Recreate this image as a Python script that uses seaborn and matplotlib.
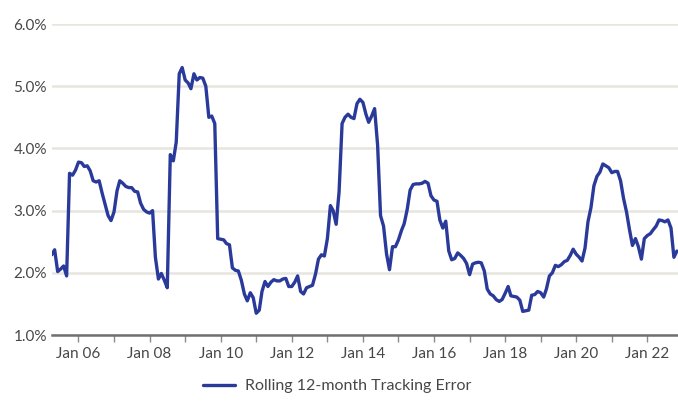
import matplotlib
matplotlib.use("Agg")
import matplotlib.pyplot as plt
import matplotlib.dates as mdates
from matplotlib.ticker import FuncFormatter
import pandas as pd
import seaborn as sns

# monthly readings, % (first point Apr 2005)
start_month = "2005-04-01"
tracking_error = [
    2.29, 2.37, 2.02, 2.06, 2.11, 1.95, 3.60, 3.57, 3.65,                    # 2005
    3.78, 3.77, 3.71, 3.72, 3.64, 3.48, 3.46, 3.48, 3.28, 3.10, 2.92, 2.84,  # 2006
    2.98, 3.32, 3.48, 3.44, 3.39, 3.37, 3.37, 3.31, 3.30, 3.12, 3.02, 2.98,  # 2007
    2.96, 3.00, 2.25, 1.90, 1.99, 1.88, 1.76, 3.90, 3.80, 4.10, 5.20, 5.30,  # 2008
    5.10, 5.05, 4.96, 5.20, 5.10, 5.14, 5.13, 5.00, 4.50, 4.52, 4.40, 2.55,  # 2009
    2.54, 2.53, 2.47, 2.45, 2.08, 2.04, 2.03, 1.88, 1.66, 1.55, 1.68, 1.60,  # 2010
    1.35, 1.40, 1.70, 1.86, 1.78, 1.85, 1.89, 1.87, 1.87, 1.90, 1.91, 1.78,  # 2011
    1.78, 1.85, 1.95, 1.70, 1.66, 1.76, 1.78, 1.80, 1.98, 2.22, 2.29, 2.27,  # 2012
    2.55, 3.08, 3.00, 2.78, 3.30, 4.40, 4.50, 4.55, 4.50, 4.48, 4.72, 4.79,  # 2013
    4.74, 4.55, 4.42, 4.52, 4.64, 4.05, 2.92, 2.75, 2.30, 2.05, 2.42, 2.42,  # 2014
    2.53, 2.68, 2.79, 3.02, 3.33, 3.42, 3.43, 3.43, 3.44, 3.47, 3.44, 3.24,  # 2015
    3.17, 3.15, 2.85, 2.72, 2.83, 2.35, 2.21, 2.23, 2.32, 2.28, 2.23, 2.15,  # 2016
    1.97, 2.14, 2.16, 2.17, 2.16, 2.03, 1.74, 1.66, 1.63, 1.57, 1.54, 1.57,  # 2017
    1.67, 1.78, 1.63, 1.62, 1.61, 1.56, 1.38, 1.39, 1.40, 1.64, 1.65, 1.70,  # 2018
    1.68, 1.61, 1.74, 1.95, 2.00, 2.12, 2.10, 2.13, 2.18, 2.20, 2.28, 2.38,  # 2019
    2.30, 2.25, 2.19, 2.40, 2.82, 3.05, 3.40, 3.55, 3.62, 3.75, 3.72, 3.69,  # 2020
    3.61, 3.63, 3.63, 3.48, 3.20, 2.98, 2.70, 2.44, 2.55, 2.42, 2.22, 2.55,  # 2021
    2.60, 2.63, 2.69, 2.75, 2.85, 2.84, 2.82, 2.85, 2.72, 2.25, 2.35,        # 2022
]
series_label = "Rolling 12-month Tracking Error"
y_ticks = [1.0, 2.0, 3.0, 4.0, 5.0, 6.0]

line_color = "#2a3a9a"
text_color = "#474747"

sns.set_theme(style="white")
plt.rcParams["font.family"] = ["Lato", "DejaVu Sans"]

df = pd.DataFrame({
    "month": pd.date_range(start_month, periods=len(tracking_error), freq="MS"),
    "te": tracking_error,
})

fig = plt.figure(figsize=(6.78, 4.03), dpi=100)
ax = fig.add_axes([0.0763, 0.1687, 0.9237, 0.7717])

sns.lineplot(data=df, x="month", y="te", ax=ax, color=line_color,
             linewidth=2.4, label=series_label, legend=False,
             solid_joinstyle="round", solid_capstyle="round")

# y axis
ax.set_ylim(1.0, 6.0)
ax.set_yticks(y_ticks)
ax.yaxis.set_major_formatter(FuncFormatter(lambda v, p: f"{v:.1f}%"))
ax.yaxis.grid(True, color="#e8e5df", linewidth=1.8)
ax.set_axisbelow(True)
ax.tick_params(axis="y", length=0, pad=3.5, labelsize=11, labelcolor=text_color)

# x axis
ax.set_xlim(pd.Timestamp("2005-04-01"), pd.Timestamp("2022-11-12"))
ax.xaxis.set_major_locator(mdates.YearLocator(2))
ax.xaxis.set_major_formatter(mdates.DateFormatter("Jan %y"))
ax.xaxis.set_minor_locator(mdates.YearLocator(1))
ax.tick_params(axis="x", which="both", direction="out", length=5, width=1,
               color="#8c8c8c", bottom=True)
ax.tick_params(axis="x", which="major", pad=3.5, labelsize=11, labelcolor=text_color)

ax.set_xlabel("")
ax.set_ylabel("")
for side in ["top", "right", "left"]:
    ax.spines[side].set_visible(False)
ax.spines["bottom"].set_color("#707070")
ax.spines["bottom"].set_linewidth(1.8)

handles, labels = ax.get_legend_handles_labels()
fig.legend(handles, labels, loc="lower center", bbox_to_anchor=(0.497, -0.012),
           frameon=False, handlelength=2.0, handletextpad=0.6,
           fontsize=11.5, labelcolor=text_color)

fig.savefig("out.png", dpi=100)
